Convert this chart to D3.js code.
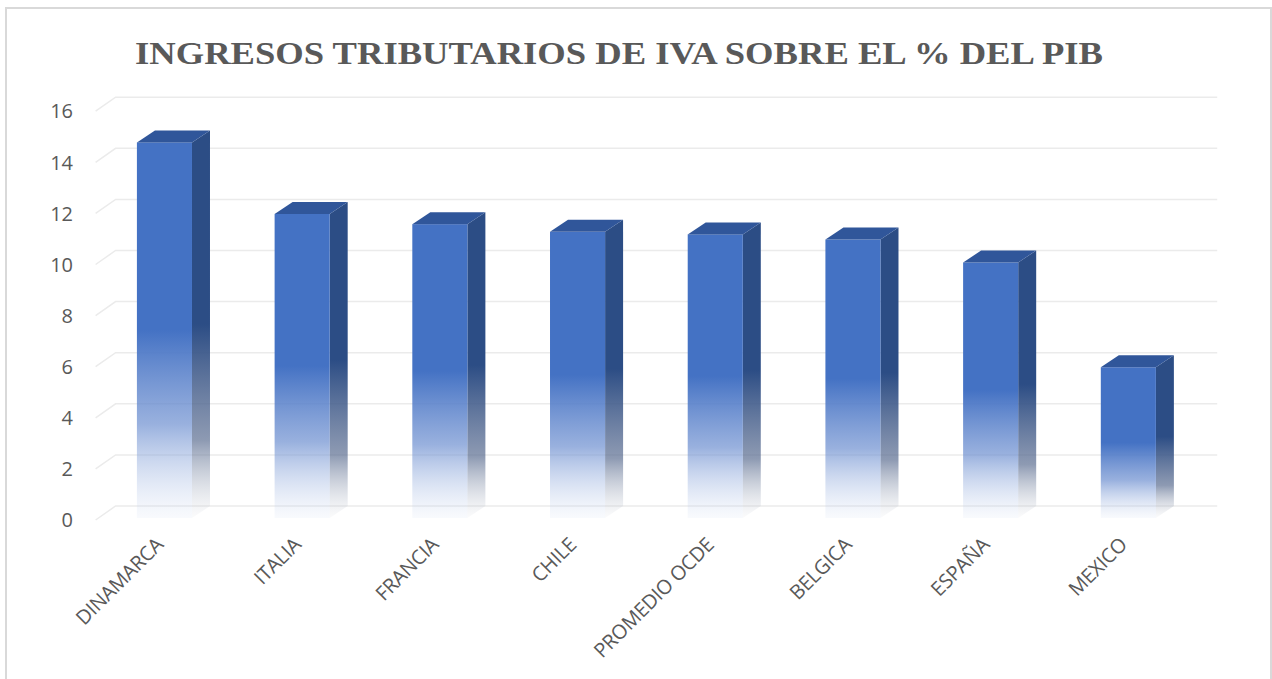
<!DOCTYPE html>
<html>
<head>
<meta charset="utf-8">
<script src="https://cdn.jsdelivr.net/npm/d3@7"></script>
<style>
  body { margin: 0; background: #fff; }
  svg { display: block; }
</style>
</head>
<body>
<div id="chart"></div>
<script>
// data
const categories = ['DINAMARCA', 'ITALIA', 'FRANCIA', 'CHILE', 'PROMEDIO OCDE', 'BELGICA', 'ESPAÑA', 'MEXICO']
const values = [14.7, 11.9, 11.5, 11.2, 11.1, 10.9, 10.0, 5.9]
const yTicks = [0, 2, 4, 6, 8, 10, 12, 14, 16]
const title = 'INGRESOS TRIBUTARIOS DE IVA SOBRE EL % DEL PIB'

const width = 1272
const height = 679
// 3d look: offset of back wall from front plane
const depthX = 20, depthY = 14
// bars are a bit shallower than the floor
const barDX = 18, barDY = 12

const svg = d3.select('#chart').append('svg')
  .attr('width', width)
  .attr('height', height)
  .style('font-family', '"Open Sans", sans-serif')

svg.append('rect')
  .attr('x', 6).attr('y', 8)
  .attr('width', 1265).attr('height', 690)
  .attr('fill', '#fff')
  .attr('stroke', '#d9d9d9')
  .attr('stroke-width', 2)

const defs = svg.append('defs')
const gFront = defs.append('linearGradient').attr('id', 'gFront')
  .attr('x1', 0).attr('y1', 0).attr('x2', 0).attr('y2', 1)
gFront.append('stop').attr('offset', '0').attr('stop-color', '#4472c4').attr('stop-opacity', 1)
gFront.append('stop').attr('offset', '0.5').attr('stop-color', '#4472c4').attr('stop-opacity', 1)
gFront.append('stop').attr('offset', '0.75').attr('stop-color', '#6d8fd0').attr('stop-opacity', 0.7)
gFront.append('stop').attr('offset', '1').attr('stop-color', '#c9d6ef').attr('stop-opacity', 0.12)

const gSide = defs.append('linearGradient').attr('id', 'gSide')
  .attr('x1', 0).attr('y1', 0).attr('x2', 0).attr('y2', 1)
gSide.append('stop').attr('offset', '0').attr('stop-color', '#2c4d85').attr('stop-opacity', 1)
gSide.append('stop').attr('offset', '0.5').attr('stop-color', '#2c4d85').attr('stop-opacity', 1)
gSide.append('stop').attr('offset', '0.8').attr('stop-color', '#5d6f92').attr('stop-opacity', 0.7)
gSide.append('stop').attr('offset', '1').attr('stop-color', '#c8ccd4').attr('stop-opacity', 0.08)

// scales (y is on the back wall)
const y = d3.scaleLinear().domain([0, 16]).range([506, 97.2])
const x = d3.scaleBand().domain(categories)
  .range([95.6, 1197.2])
  .paddingInner(0.6)
  .paddingOuter(0.3)

// gridlines: diagonal on the side wall + horizontal on back wall
const grid = svg.append('g')
grid.selectAll('path').data(yTicks).enter().append('path')
  .attr('d', d => `M${x.range()[0]},${y(d) + depthY} L${x.range()[0] + depthX},${y(d)} L${x.range()[1] + depthX},${y(d)}`)
  .attr('fill', 'none')
  .attr('stroke', '#ebebeb')
  .attr('stroke-width', 1.5)

svg.append('g').selectAll('text').data(yTicks).enter().append('text')
  .attr('x', 73)
  .attr('y', d => y(d) + depthY)
  .attr('dy', '0.36em')
  .attr('text-anchor', 'end')
  .attr('font-size', 20)
  .attr('fill', '#595959')
  .text(d => d)

// bars
const frontBase = y(0) + barDY
const bars = svg.append('g').selectAll('g').data(values).enter().append('g')

bars.append('path') // side
  .attr('d', (d, i) => {
    const x1 = x(categories[i]) + x.bandwidth()
    const yt = y(d) + barDY
    return `M${x1},${yt} L${x1 + barDX},${yt - barDY} L${x1 + barDX},${frontBase - barDY} L${x1},${frontBase} Z`
  })
  .attr('fill', 'url(#gSide)')

bars.append('rect') // front
  .attr('x', (d, i) => x(categories[i]))
  .attr('y', d => y(d) + barDY)
  .attr('width', x.bandwidth())
  .attr('height', d => frontBase - (y(d) + barDY))
  .attr('fill', 'url(#gFront)')

bars.append('path') // top
  .attr('d', (d, i) => {
    const x0 = x(categories[i])
    const yt = y(d) + barDY
    return `M${x0},${yt} L${x0 + barDX},${yt - barDY} L${x0 + barDX + x.bandwidth()},${yt - barDY} L${x0 + x.bandwidth()},${yt} Z`
  })
  .attr('fill', '#30569a')

// category labels
svg.append('g').selectAll('text').data(categories).enter().append('text')
  .attr('transform', d => `translate(${x(d) + x.bandwidth() / 2},${frontBase + 28}) rotate(-45)`)
  .attr('text-anchor', 'end')
  .attr('font-size', 20)
  .attr('letter-spacing', -0.3)
  .attr('fill', '#595959')
  .text(d => d)

// title
svg.append('text')
  .attr('x', 619)
  .attr('y', 64)
  .attr('text-anchor', 'middle')
  .attr('font-family', '"Liberation Serif", "Times New Roman", serif')
  .attr('font-weight', 'bold')
  .attr('font-size', 31)
  .attr('fill', '#595959')
  .attr('textLength', 968)
  .attr('lengthAdjust', 'spacingAndGlyphs')
  .text(title)
</script>
</body>
</html>
